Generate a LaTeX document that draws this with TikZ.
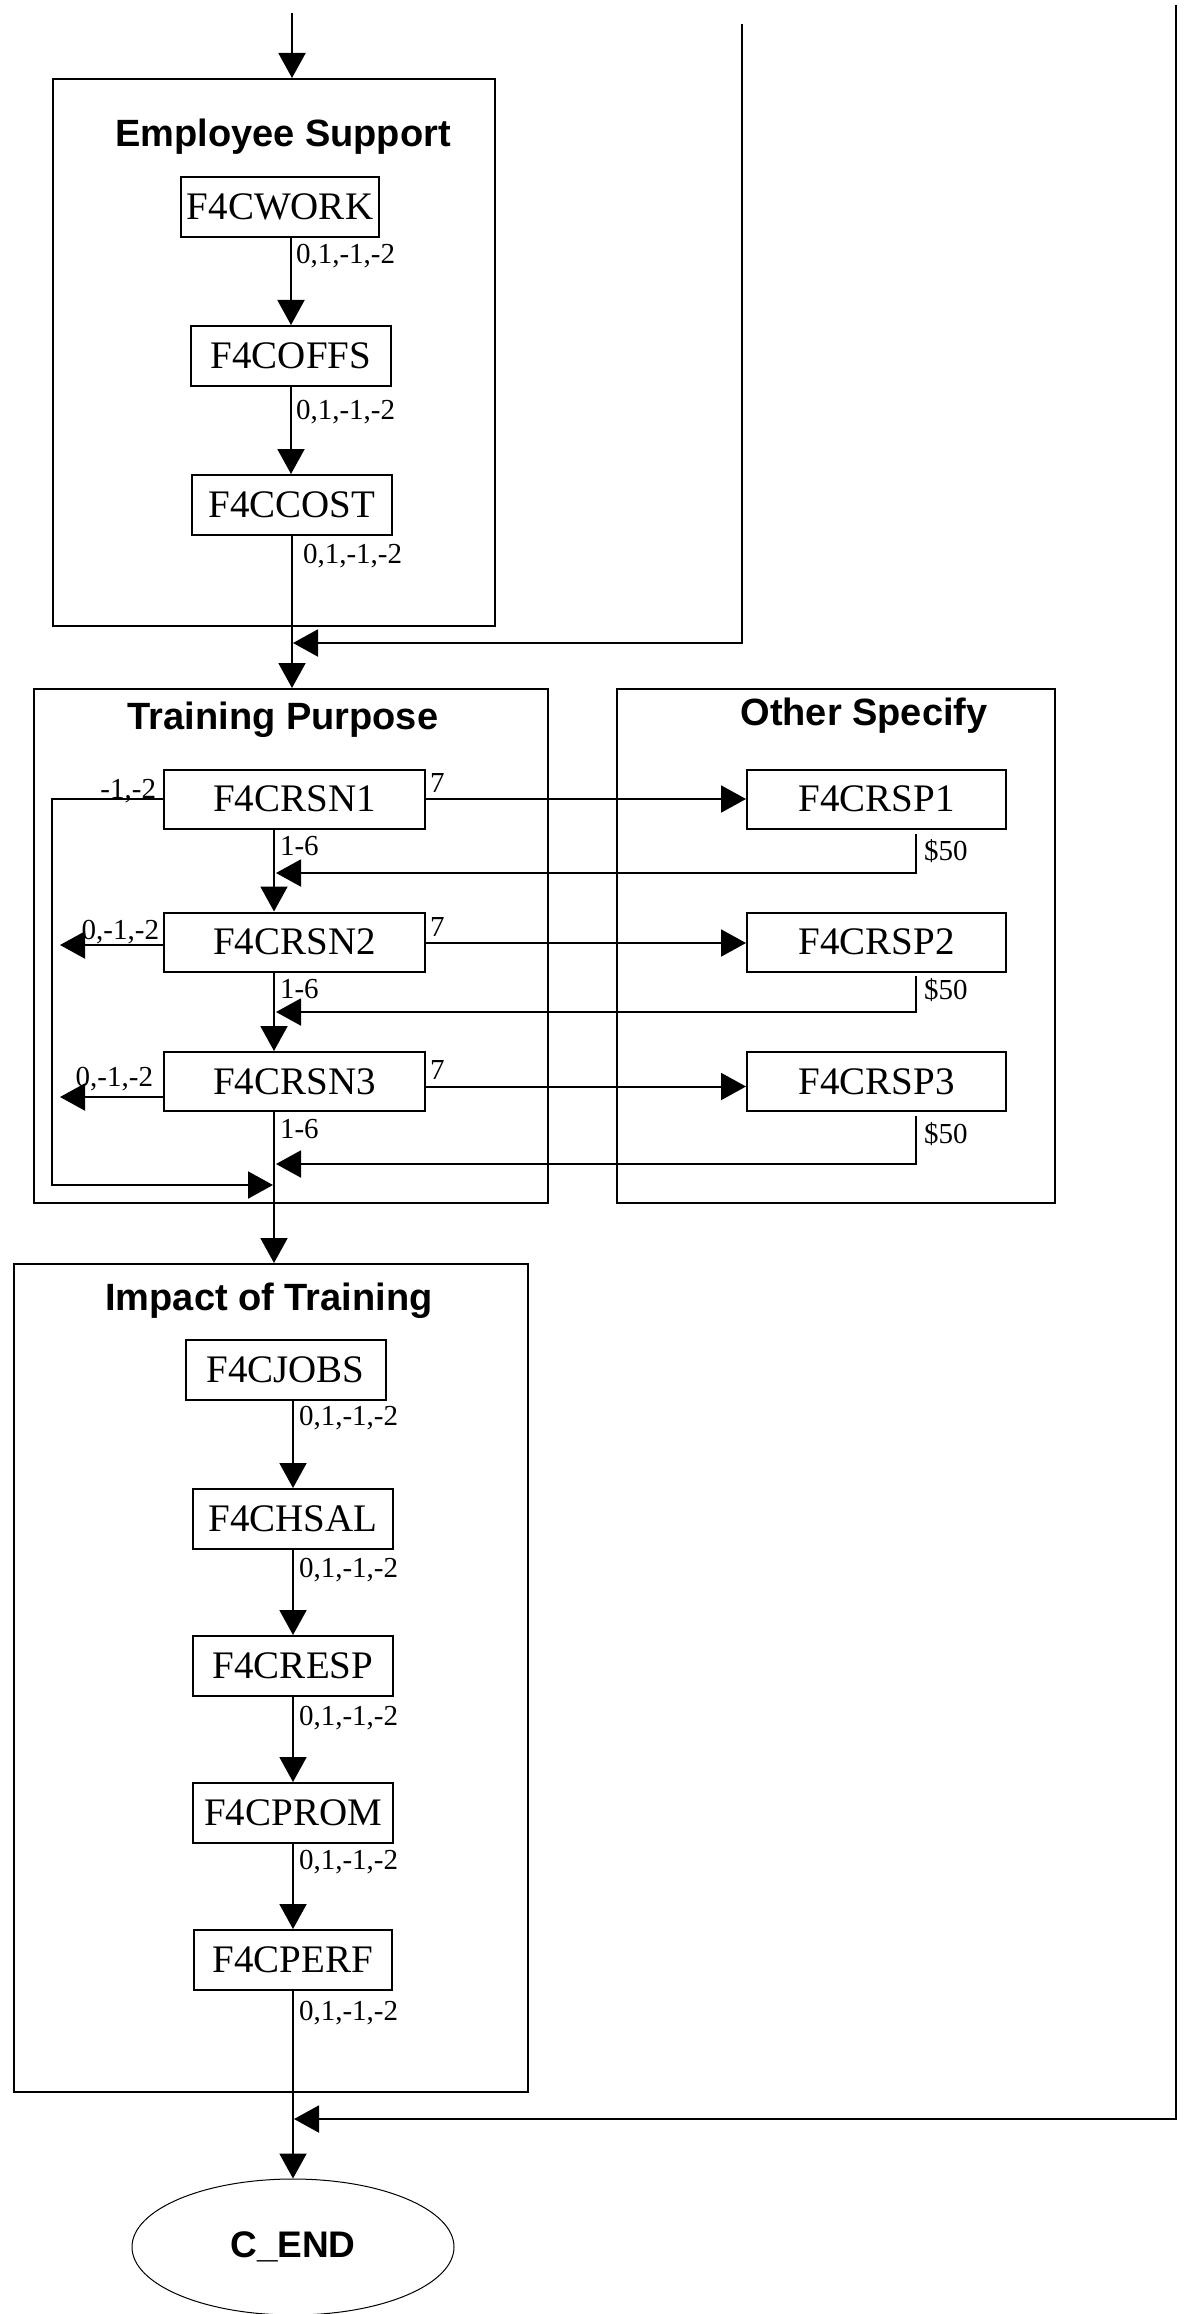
\documentclass[tikz,border=0pt]{standalone}
\usepackage{fontspec}
\setmainfont{Liberation Serif}
\newfontfamily\headfont{Liberation Sans}
\usetikzlibrary{arrows.meta,shapes.geometric}
\tikzset{
  varbox/.style={draw, line width=2pt, inner sep=0pt, minimum width=200pt, minimum height=60pt, font=\fontsize{39}{39}\selectfont},
  groupbox/.style={draw, line width=2pt, inner sep=0pt, anchor=north west},
  grouptitle/.style={anchor=base, inner sep=0pt, font=\headfont\bfseries\fontsize{38}{38}\selectfont},
  codes/.style={inner sep=0pt, font=\fontsize{29}{29}\selectfont},
  flowline/.style={line width=2pt, -{Triangle[length=25pt,width=27pt]}},
}
\begin{document}
\begin{tikzpicture}[x=1pt,y=-1pt]
    \useasboundingbox (0,0) rectangle (1183,2314);
    %% Group boxes
    \node[groupbox, minimum width=442pt, minimum height=547pt] (es) at (52,78) {};
    \node[groupbox, minimum width=514pt, minimum height=514pt] (tp) at (33,688) {};
    \node[groupbox, minimum width=438pt, minimum height=514pt] (os) at (616,688) {};
    \node[groupbox, minimum width=514pt, minimum height=828pt] (it) at (13,1263) {};
    \node[grouptitle] (esT) at (283,147) {Employee Support};
    \node[grouptitle] (tpT) at (283,729) {Training Purpose};
    \node[grouptitle] (osT) at (864,725) {Other Specify};
    \node[grouptitle] (itT) at (269,1310) {Impact of Training};
    %% Employee Support
    \coordinate (in) at (292,13);
    \node[varbox, minimum width=198pt] (work) at (280,207) {F4CWORK};
    \node[varbox] (offs) at (291,356) {F4COFFS};
    \node[varbox] (cost) at (292,505) {F4CCOST};
    \draw[flowline] (in) -- (in |- es.north);
    \draw[flowline] ([xshift=11pt]work.south) -- node[codes, pos=0, anchor=north west, xshift=4pt, yshift=-5pt] (lwork) {0,1,-1,-2} (offs.north);
    \draw[flowline] (offs.south) -- node[codes, pos=0, anchor=north west, xshift=4pt, yshift=-12pt] (loffs) {0,1,-1,-2} (offs.south |- cost.north);
    \draw[flowline] (cost.south) -- node[codes, pos=0, anchor=north west, xshift=10pt, yshift=-7pt] (lcost) {0,1,-1,-2} (cost.south |- tp.north);
    %% Return from the right
    \coordinate (r1) at (742,24);
    \coordinate (j1) at (293,643);
    \draw[flowline] (r1) |- (j1);
    %% Training Purpose
    \node[varbox, minimum width=261pt, minimum height=59pt] (rsn1) at (294.5,799) {F4CRSN1};
    \node[varbox, minimum width=261pt, minimum height=59pt] (rsn2) at (294.5,942) {F4CRSN2};
    \node[varbox, minimum width=261pt, minimum height=59pt] (rsn3) at (294.5,1081.5) {F4CRSN3};
    %% Other Specify
    \node[varbox, minimum width=259pt, minimum height=59pt] (rsp1) at (876.5,799) {F4CRSP1};
    \node[varbox, minimum width=259pt, minimum height=59pt] (rsp2) at (876.5,942) {F4CRSP2};
    \node[varbox, minimum width=259pt, minimum height=59pt] (rsp3) at (876.5,1081.5) {F4CRSP3};
    %% Answer 7
    \draw[flowline] (rsn1.east) -- node[codes, pos=0, anchor=south west, xshift=3pt, yshift=6pt] (s1) {7} (rsp1.west);
    \draw[flowline] ([yshift=-1pt]rsn2.east) -- node[codes, pos=0, anchor=south west, xshift=3pt, yshift=6pt] (s2) {7} ([yshift=-1pt]rsp2.west);
    \draw[flowline] ([yshift=-5pt]rsn3.east) -- node[codes, pos=0, anchor=south west, xshift=3pt, yshift=6pt] (s3) {7} ([yshift=-5pt]rsp3.west);
    %% Answers 1-6
    \draw[flowline] ([xshift=-20.5pt]rsn1.south) -- node[codes, pos=0, anchor=north west, xshift=5pt, yshift=-6pt] (n1) {1-6} ([xshift=-20.5pt]rsn2.north);
    \draw[flowline] ([xshift=-20.5pt]rsn2.south) -- node[codes, pos=0, anchor=north west, xshift=5pt, yshift=-6pt] (n2) {1-6} ([xshift=-20.5pt]rsn3.north);
    \draw[flowline] ([xshift=-20.5pt]rsn3.south) -- node[codes, pos=0, anchor=north west, xshift=5pt, yshift=-6pt] (n3) {1-6} ([xshift=-20.5pt]rsn3.south |- it.north);
    %% Specify returns
    \coordinate (j2) at (276,873);
    \coordinate (j3) at (276,1012);
    \coordinate (j4) at (276,1164);
    \draw[flowline] ([xshift=39.5pt,yshift=-4pt]rsp1.south) node[codes, anchor=north west, xshift=7pt, yshift=-5pt] (d1) {\$50} |- (j2);
    \draw[flowline] ([xshift=39.5pt,yshift=-3pt]rsp2.south) node[codes, anchor=north west, xshift=7pt, yshift=-2pt] (d2) {\$50} |- (j3);
    \draw[flowline] ([xshift=39.5pt,yshift=-4pt]rsp3.south) node[codes, anchor=north west, xshift=7pt, yshift=-5pt] (d3) {\$50} |- (j4);
    %% Skip answers
    \coordinate (lp) at (52,1185);
    \coordinate (j5) at (273,1185);
    \coordinate (o2) at (60,945);
    \coordinate (o3) at (60,1097);
    \draw[flowline] (rsn1.west) node[codes, anchor=base east, xshift=-6pt, yshift=1pt] (k1) {-1,-2} -| (lp) -- (j5);
    \draw[flowline] ([yshift=-3pt]rsn2.west) node[codes, anchor=base east, xshift=-3pt, yshift=6pt] (k2) {0,-1,-2} -- (o2);
    \draw[flowline] ([yshift=-15.5pt]rsn3.west) node[codes, anchor=base east, xshift=-9pt, yshift=10.5pt] (k3) {0,-1,-2} -- (o3);
    %% Impact of Training
    \node[varbox] (jobs) at (285.5,1369.5) {F4CJOBS};
    \node[varbox] (hsal) at (293,1519) {F4CHSAL};
    \node[varbox] (resp) at (293,1666) {F4CRESP};
    \node[varbox] (prom) at (293,1813) {F4CPROM};
    \node[varbox, minimum width=198pt] (perf) at (293,1960) {F4CPERF};
    \node[draw, ellipse, line width=1pt, inner sep=0pt, minimum width=322pt, minimum height=136pt, font=\headfont\bfseries\fontsize{37}{37}\selectfont] (cend) at (293,2247) {C\_END};
    \draw[flowline] ([xshift=7.5pt]jobs.south) -- node[codes, pos=0, anchor=north west, xshift=5pt, yshift=-5pt] (ljobs) {0,1,-1,-2} (hsal.north);
    \draw[flowline] (hsal.south) -- node[codes, pos=0, anchor=north west, xshift=5pt, yshift=-7pt] (lhsal) {0,1,-1,-2} (resp.north);
    \draw[flowline] (resp.south) -- node[codes, pos=0, anchor=north west, xshift=5pt, yshift=-8pt] (lresp) {0,1,-1,-2} (prom.north);
    \draw[flowline] (prom.south) -- node[codes, pos=0, anchor=north west, xshift=5pt, yshift=-5pt] (lprom) {0,1,-1,-2} (perf.north);
    \draw[flowline] (perf.south) -- node[codes, pos=0, anchor=north west, xshift=5pt, yshift=-9pt] (lperf) {0,1,-1,-2} (cend.north);
    %% Return at the end
    \coordinate (r2) at (1176,5);
    \coordinate (j6) at (294,2119);
    \draw[flowline] (r2) |- (j6);
\end{tikzpicture}
\end{document}
